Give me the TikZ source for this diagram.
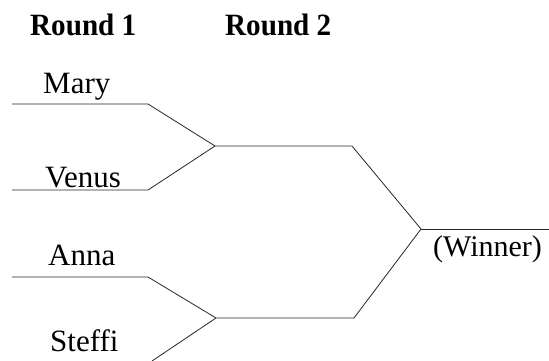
\documentclass[tikz,border=0pt]{standalone}
\usepackage{graphicx}
\usepackage{fontspec}
\setmainfont{Liberation Serif}
\begin{document}
\begin{tikzpicture}[x=1pt,y=-1pt,
  bline/.style={draw=black!85, line width=0.8pt},
  playerlbl/.style={anchor=base west, inner sep=0pt, font=\fontsize{31}{36}\selectfont},
  headlbl/.style={anchor=base west, inner sep=0pt, font=\fontsize{31}{36}\selectfont\bfseries}]
\useasboundingbox (0,0) rectangle (549,361);
% headings
\node[headlbl] (r1) at (30,36) {\scalebox{0.94}[1]{Round 1}};
\node[headlbl] (r2) at (225,36) {\scalebox{0.94}[1]{Round 2}};
% names
\node[playerlbl] (mary) at (43,93) {Mary};
\node[playerlbl] (venus) at (45,187) {Venus};
\node[playerlbl] (anna) at (48,265) {Anna};
\node[playerlbl] (steffi) at (50,351) {Steffi};
\node[playerlbl, font=\fontsize{30}{36}\selectfont] (winner) at (433,256) {(Winner)};
% bracket points
\coordinate (m0) at (12,104);
\coordinate (m1) at (148,104);
\coordinate (v0) at (12,190);
\coordinate (v1) at (148,190);
\coordinate (a0) at (12,277);
\coordinate (a1) at (148,277);
\coordinate (s1) at (152,361);
\coordinate (j1) at (215,146);
\coordinate (j2) at (216,318);
\coordinate (t1) at (352,146);
\coordinate (b1) at (354,318);
\coordinate (w) at (421,229);
\coordinate (w1) at (549,229);
% lines
\draw[bline] (m0) -- (m1) -- (j1);
\draw[bline] (v0) -- (v1) -- (j1);
\draw[bline] (a0) -- (a1) -- (j2);
\draw[bline] (s1) -- (j2);
\draw[bline] (j1) -- (t1) -- (w);
\draw[bline] (j2) -- (b1) -- (w);
\draw[bline] (w) -- (w1);
\end{tikzpicture}
\end{document}
